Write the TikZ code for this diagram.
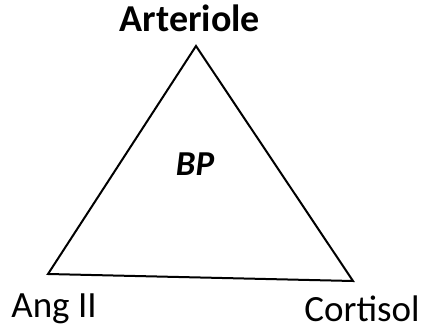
\documentclass[tikz,border=0pt]{standalone}
\usepackage{fontspec}
\setmainfont{Carlito}
\usetikzlibrary{positioning}

\begin{document}
\begin{tikzpicture}[
  x=1pt, y=-1pt,
  label/.style={inner sep=0pt, anchor=base, font=\fontsize{37}{42}\selectfont},
  side/.style={line width=2pt, line join=miter},
]
\useasboundingbox (0,0) rectangle (425,326);

% Corners of the triangle
\coordinate (top)   at (196,46);
\coordinate (left)  at (48,274);
\coordinate (right) at (353,281);

\draw[side] (top) -- (left) -- (right) -- cycle;

% Labels
\node[label, font=\fontsize{38}{42}\selectfont\bfseries] (art) at (190,32) {Arteriole};
\node[label, font=\fontsize{35}{42}\selectfont\bfseries\itshape] (bp) at (195,175) {BP};
\node[label] (ang) at (54,317) {Ang II};
\node[label] (cort) at (362,321) {Cortisol};
\end{tikzpicture}
\end{document}
